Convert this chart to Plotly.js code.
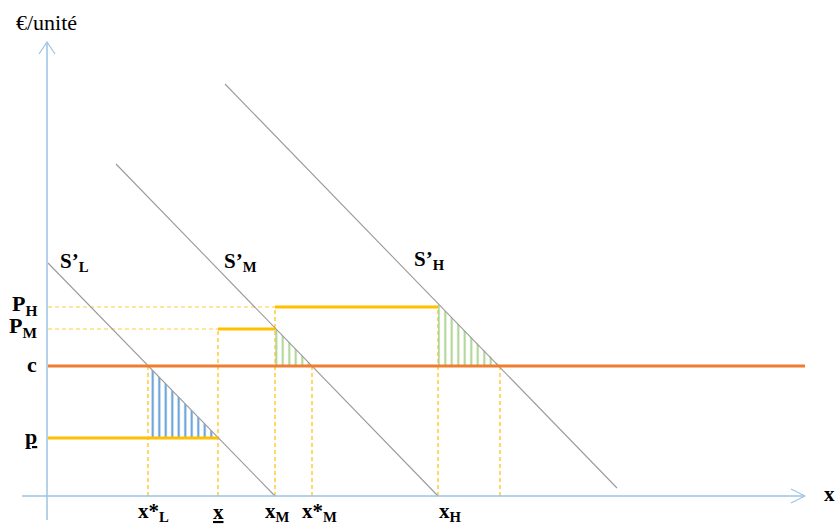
<!DOCTYPE html>
<html><head><meta charset="utf-8">
<script src="https://cdn.plot.ly/plotly-3.0.1.min.js"></script>
<style>html,body{margin:0;padding:0;background:#fff}#chart{width:837px;height:528px}</style>
</head><body><div id="chart"></div>
<script>
// ---- data (quantity on x, €/unit on y) ----
const priceNames  = ['P<sub>H</sub>', 'P<sub>M</sub>', 'c', '<u>p</u>'];
const priceValues = [189, 167, 130, 58];

const qtyNames  = ['x*<sub>L</sub>', '<u>x</u>', 'x<sub>M</sub>', 'x*<sub>M</sub>', 'x<sub>H</sub>'];
const qtyValues = [100, 170, 227, 264, 390];

const curveNames = ['S’<sub>L</sub>', 'S’<sub>M</sub>', 'S’<sub>H</sub>'];
const sLx = [0, 227],   sLy = [233, 0];
const sMx = [68, 390],  sMy = [332, 0];
const sHx = [177, 569], sHy = [412, 8];
const curveLabelX = [10, 174, 364];
const curveLabelY = [234, 234, 236];

const stepStartX = [0, 170, 227];
const stepEndX   = [170, 227, 390];
const stepY      = [58, 167, 189];

const costX = [0, 757];
const costY = [130, 130];

const vGuideX   = [100, 170, 227, 264, 390, 452];
const vGuideTop = [130, 167, 189, 130, 189, 130];
const hGuideEnd = [227, 170];
const hGuideY   = [189, 167];

const triLx = [100, 170, 100], triLy = [130, 58, 58];
const triMx = [227, 264, 227], triMy = [168, 130, 130];
const triHx = [390, 452, 390], triHy = [192, 130, 130];

const xAxisSpan = [-26, 757];
const yAxisSpan = [-24, 454];

// ---- styles ----
const GOLD = '#FFC000', ORANGE = '#ED7D31', GREY = '#9A9A9A', AXIS = '#9DC3E6';
const BLUE = '#5B9BD5', GREEN = '#A9D18E';
const FONT = 'Liberation Serif, Times New Roman, serif';
const qtyShift = [5, 0, 2, 7, 12];

const traces = [];
const line = (x, y, color, width, dash) => traces.push({
  type: 'scatter', mode: 'lines', x: x, y: y, hoverinfo: 'skip',
  line: {color: color, width: width, dash: dash || 'solid'}
});

// dashed guides
vGuideX.forEach((vx, i) => line([vx, vx], [0, vGuideTop[i]], GOLD, 1.2, '4px,3px'));
hGuideEnd.forEach((hx, i) => line([0, hx], [hGuideY[i], hGuideY[i]], GOLD, 0.8, '4px,3px'));

// hatched triangles
const tri = (x, y, color) => traces.push({
  type: 'scatter', mode: 'lines', x: x, y: y, fill: 'toself', hoverinfo: 'skip',
  fillcolor: 'rgba(0,0,0,0)', line: {width: 0},
  fillpattern: {shape: '|', fgcolor: color, size: 6.5, solidity: 0.3}
});
tri(triLx, triLy, BLUE);
tri(triMx, triMy, GREEN);
tri(triHx, triHy, GREEN);

// supply curves
[[sLx, sLy], [sMx, sMy], [sHx, sHy]].forEach(c => line(c[0], c[1], GREY, 1.1));

// price steps
stepY.forEach((py, i) => line([stepStartX[i], stepEndX[i]], [py, py], GOLD, 3));

// cost line
line(costX, costY, ORANGE, 3);

// axes with open chevrons
line(xAxisSpan, [0, 0], AXIS, 1.5);
line([-1, -1], yAxisSpan, AXIS, 1.5);
const xTip = xAxisSpan[1], yTip = yAxisSpan[1];
line([xTip - 14, xTip, xTip - 14], [7, 0, -7], AXIS, 1.2);
line([-9, -1, 7], [yTip - 12, yTip, yTip - 12], AXIS, 1.2);

// ---- labels ----
const ann = [];
const lab = (text, x, y, xa, size, opts) => ann.push(Object.assign({
  text: text, x: x, y: y, xref: 'x', yref: 'y', xanchor: xa, yanchor: 'middle',
  showarrow: false, font: {family: FONT, size: size, color: '#000'}
}, opts || {}));

priceNames.forEach((t, i) => lab('<b>' + t + '</b>', -9, priceValues[i], 'right', 22, {yshift: 2}));
qtyNames.forEach((t, i) => lab('<b>' + t + '</b>', qtyValues[i], -16, 'center', 21, {xshift: qtyShift[i]}));
curveNames.forEach((t, i) => lab('<b>' + t + '</b>', curveLabelX[i], curveLabelY[i], 'left', 21));
lab('€/unité', -34, 474, 'left', 22);
lab('<b>x</b>', 774, 2, 'left', 21);

Plotly.newPlot('chart', traces, {
  width: 837, height: 528,
  margin: {l: 0, r: 0, t: 0, b: 0},
  paper_bgcolor: '#fff', plot_bgcolor: '#fff',
  showlegend: false,
  xaxis: {range: [-48, 789], visible: false, fixedrange: true},
  yaxis: {range: [-32, 496], visible: false, fixedrange: true},
  annotations: ann
}, {staticPlot: true});
</script></body></html>
